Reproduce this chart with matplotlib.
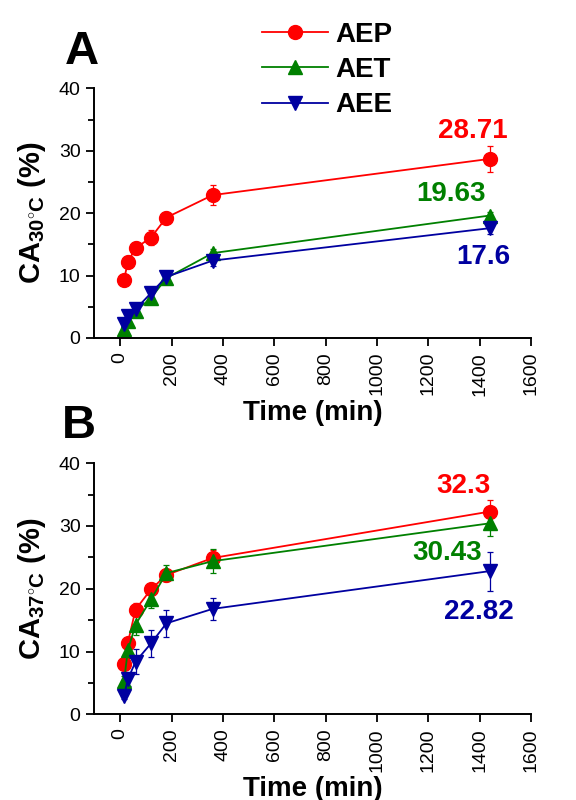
import numpy as np
import matplotlib
matplotlib.use('Agg')
import matplotlib.pyplot as plt
from matplotlib.ticker import MultipleLocator

plt.rcParams['font.family'] = ['Liberation Sans', 'DejaVu Sans']
plt.rcParams['mathtext.fontset'] = 'custom'
plt.rcParams['mathtext.rm'] = 'Liberation Sans:bold'
plt.rcParams['mathtext.it'] = 'Liberation Sans:bold'
plt.rcParams['mathtext.bf'] = 'Liberation Sans:bold'

time = [15, 30, 60, 120, 180, 360, 1440]
names = ['AEP', 'AET', 'AEE']
colors = ['#ff0000', '#008000', '#0000a0']
markers = ['o', '^', 'v']

# panel A, 30 C
a_aep = [9.3, 12.2, 14.4, 16.1, 19.3, 22.9, 28.71]
a_aet = [1.5, 2.7, 4.3, 6.4, 9.6, 13.6, 19.63]
a_aee = [2.3, 3.5, 4.6, 7.2, 9.8, 12.4, 17.6]
a_aep_err = [0.6, 1.0, 1.0, 1.2, 0.9, 1.6, 2.1]
a_aet_err = [0.5, 0.5, 0.6, 1.0, 0.8, 0.6, 0.6]
a_aee_err = [0.6, 0.7, 0.8, 1.0, 0.7, 0.9, 1.0]

# panel B, 37 C
b_aep = [8.1, 11.4, 16.7, 19.9, 22.2, 24.9, 32.3]
b_aet = [5.3, 10.2, 14.3, 18.3, 22.5, 24.4, 30.43]
b_aee = [2.9, 5.6, 8.4, 11.3, 14.5, 16.8, 22.82]
b_aep_err = [0.6, 0.8, 1.0, 0.9, 1.0, 1.3, 1.8]
b_aet_err = [0.8, 1.2, 1.6, 1.3, 1.3, 1.9, 2.0]
b_aee_err = [0.5, 1.0, 2.0, 2.2, 2.2, 1.7, 3.1]

# label offsets from the last point (dx, dy) in data units
a_lab_off = [(-67, 4.4), (-152, 3.4), (-27, -4.6)]
b_lab_off = [(-105, 4.0), (-168, -4.8), (-44, -6.5)]

fig = plt.figure(figsize=(5.76, 8), dpi=100)
axA = fig.add_axes([0.164, 0.5775, 0.758, 0.312])
axB = fig.add_axes([0.164, 0.107, 0.758, 0.314])


def draw(ax, series, errs, offs, sub):
    for y, e, c, m, n, off in zip(series, errs, colors, markers, names, offs):
        ax.errorbar(time, y, yerr=e, color=c, marker=m, ms=10, lw=1.3,
                    elinewidth=0.9, capsize=2.5, capthick=0.9, label=n)
        ax.text(time[-1] + off[0], y[-1] + off[1], str(y[-1]), color=c,
                fontsize=20, fontweight='bold', ha='center', va='center')
    ax.set_xlim(-100, 1600)
    ax.set_ylim(0, 40)
    ax.xaxis.set_major_locator(MultipleLocator(200))
    ax.yaxis.set_major_locator(MultipleLocator(10))
    ax.yaxis.set_minor_locator(MultipleLocator(5))
    ax.spines['top'].set_visible(False)
    ax.spines['right'].set_visible(False)
    for s in ['left', 'bottom']:
        ax.spines[s].set_linewidth(1.4)
    ax.tick_params(axis='both', which='major', length=6, width=1.3,
                   labelsize=14, pad=4)
    ax.tick_params(axis='y', which='minor', length=4, width=1.3)
    plt.setp(ax.get_xticklabels(), rotation=90)
    ax.set_xlabel('Time (min)', fontsize=20, fontweight='bold', labelpad=3)
    ax.set_ylabel(r'CA$_{\mathrm{%s^{\circ}C}}$ (%%)' % sub, fontsize=21,
                  fontweight='bold', labelpad=8)


draw(axA, [a_aep, a_aet, a_aee], [a_aep_err, a_aet_err, a_aee_err], a_lab_off, '30')
draw(axB, [b_aep, b_aet, b_aee], [b_aep_err, b_aet_err, b_aee_err], b_lab_off, '37')

h, l = axA.get_legend_handles_labels()
h = [x[0] for x in h]
fig.legend(h, l, loc='upper left', bbox_to_anchor=(0.43, 0.99), frameon=False,
           prop={'weight': 'bold', 'size': 20}, handlelength=2.4, borderpad=0,
           labelspacing=0.33, handletextpad=0.25)

fig.text(0.142, 0.935, 'A', fontsize=34, fontweight='bold', ha='center', va='center')
fig.text(0.137, 0.4675, 'B', fontsize=34, fontweight='bold', ha='center', va='center')

fig.savefig('out.png', dpi=100)
